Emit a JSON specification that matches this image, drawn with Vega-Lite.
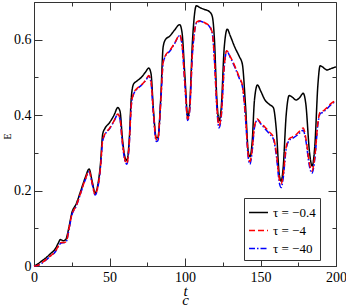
{
"$schema": "https://vega.github.io/schema/vega-lite/v6.json",
"width": 302, "height": 264,
"autosize": "none",
"padding": {"left": 34, "top": 2, "right": 10, "bottom": 39},
"background": "white",
"config": {"view": {"stroke": "#333", "strokeWidth": 1}, "font": "Liberation Serif", "axis": {"grid": false, "domainColor": "#333", "tickColor": "#333"}},
"datasets": {
"a": [
{"t":0,"E":0},{"t":2,"E":0.004},{"t":5,"E":0.013},{"t":8,"E":0.022},{"t":11,"E":0.033},{"t":14,"E":0.045},{"t":16,"E":0.06},{"t":17.5,"E":0.07},{"t":19.5,"E":0.067},{"t":21,"E":0.07},{"t":23,"E":0.1},{"t":25,"E":0.14},{"t":28,"E":0.165},{"t":31,"E":0.2},{"t":34,"E":0.235},{"t":36.5,"E":0.257},{"t":38.5,"E":0.225},{"t":40.5,"E":0.193},{"t":42,"E":0.21},{"t":44,"E":0.27},{"t":45.5,"E":0.35},{"t":47,"E":0.365},{"t":50,"E":0.38},{"t":53,"E":0.4},{"t":55.5,"E":0.42},{"t":57,"E":0.41},{"t":58.5,"E":0.34},{"t":60.5,"E":0.285},{"t":61.5,"E":0.28},{"t":63,"E":0.33},{"t":64.5,"E":0.45},{"t":66,"E":0.483},{"t":68,"E":0.49},{"t":71,"E":0.5},{"t":74,"E":0.515},{"t":76,"E":0.525},{"t":77.5,"E":0.51},{"t":79,"E":0.42},{"t":81,"E":0.34},{"t":82,"E":0.34},{"t":84,"E":0.45},{"t":85.5,"E":0.58},{"t":87,"E":0.6},{"t":90,"E":0.61},{"t":93,"E":0.625},{"t":96.5,"E":0.64},{"t":98,"E":0.62},{"t":100,"E":0.5},{"t":101.8,"E":0.395},{"t":103,"E":0.42},{"t":105,"E":0.6},{"t":107.5,"E":0.69},{"t":110,"E":0.685},{"t":113,"E":0.68},{"t":116,"E":0.675},{"t":118,"E":0.663},{"t":119.5,"E":0.6},{"t":121,"E":0.45},{"t":122.5,"E":0.385},{"t":124,"E":0.42},{"t":126,"E":0.58},{"t":128,"E":0.628},{"t":130,"E":0.61},{"t":133,"E":0.58},{"t":136,"E":0.555},{"t":138,"E":0.535},{"t":140,"E":0.43},{"t":142,"E":0.3},{"t":143,"E":0.29},{"t":144.5,"E":0.33},{"t":146,"E":0.44},{"t":148,"E":0.48},{"t":150,"E":0.465},{"t":153,"E":0.44},{"t":156,"E":0.428},{"t":158.5,"E":0.42},{"t":160.5,"E":0.36},{"t":162.5,"E":0.24},{"t":163.7,"E":0.225},{"t":165,"E":0.26},{"t":167,"E":0.4},{"t":169,"E":0.452},{"t":171,"E":0.448},{"t":173.5,"E":0.44},{"t":176,"E":0.447},{"t":178.3,"E":0.458},{"t":180,"E":0.43},{"t":182.5,"E":0.3},{"t":184.2,"E":0.265},{"t":186,"E":0.32},{"t":188,"E":0.48},{"t":189.5,"E":0.531},{"t":191,"E":0.528},{"t":194,"E":0.52},{"t":197,"E":0.524},{"t":200,"E":0.528}
],
"b": [
{"t":0,"E":0},{"t":2,"E":0.001},{"t":5,"E":0.008},{"t":8,"E":0.017},{"t":11,"E":0.027},{"t":14,"E":0.038},{"t":16,"E":0.052},{"t":18,"E":0.062},{"t":20,"E":0.062},{"t":21.5,"E":0.066},{"t":23,"E":0.095},{"t":25,"E":0.135},{"t":28,"E":0.16},{"t":31,"E":0.195},{"t":34,"E":0.23},{"t":36.5,"E":0.252},{"t":38.5,"E":0.22},{"t":40.5,"E":0.19},{"t":42,"E":0.205},{"t":44,"E":0.26},{"t":45.5,"E":0.335},{"t":47,"E":0.35},{"t":50,"E":0.365},{"t":53,"E":0.385},{"t":55.5,"E":0.403},{"t":57,"E":0.39},{"t":58.5,"E":0.33},{"t":60.5,"E":0.278},{"t":61.5,"E":0.272},{"t":63,"E":0.32},{"t":64.5,"E":0.43},{"t":66,"E":0.458},{"t":68,"E":0.47},{"t":71,"E":0.48},{"t":74,"E":0.493},{"t":76,"E":0.505},{"t":77.5,"E":0.49},{"t":79,"E":0.41},{"t":81,"E":0.335},{"t":82,"E":0.335},{"t":84,"E":0.44},{"t":85.5,"E":0.54},{"t":87,"E":0.558},{"t":90,"E":0.572},{"t":93,"E":0.59},{"t":96.5,"E":0.612},{"t":98,"E":0.59},{"t":100,"E":0.48},{"t":101.8,"E":0.39},{"t":103,"E":0.41},{"t":105,"E":0.57},{"t":108,"E":0.648},{"t":110,"E":0.65},{"t":113,"E":0.645},{"t":116,"E":0.637},{"t":118,"E":0.62},{"t":119.5,"E":0.55},{"t":121,"E":0.43},{"t":122.5,"E":0.372},{"t":124,"E":0.4},{"t":126,"E":0.53},{"t":127.6,"E":0.571},{"t":130,"E":0.555},{"t":133,"E":0.53},{"t":136,"E":0.5},{"t":138,"E":0.48},{"t":140,"E":0.4},{"t":142,"E":0.29},{"t":143,"E":0.277},{"t":144.5,"E":0.31},{"t":146,"E":0.37},{"t":148,"E":0.39},{"t":150,"E":0.38},{"t":153,"E":0.368},{"t":156,"E":0.355},{"t":158.5,"E":0.342},{"t":160.5,"E":0.3},{"t":162.5,"E":0.23},{"t":163.7,"E":0.218},{"t":165,"E":0.24},{"t":167,"E":0.315},{"t":169,"E":0.337},{"t":171,"E":0.342},{"t":174,"E":0.35},{"t":176,"E":0.358},{"t":178.3,"E":0.366},{"t":180,"E":0.34},{"t":182.5,"E":0.27},{"t":184,"E":0.252},{"t":186,"E":0.29},{"t":188,"E":0.38},{"t":189.5,"E":0.408},{"t":191,"E":0.41},{"t":194,"E":0.42},{"t":197,"E":0.432},{"t":200,"E":0.438}
],
"c": [
{"t":0,"E":0},{"t":2,"E":0.001},{"t":5,"E":0.007},{"t":8,"E":0.016},{"t":11,"E":0.027},{"t":14,"E":0.037},{"t":16,"E":0.051},{"t":18,"E":0.061},{"t":20,"E":0.062},{"t":21.5,"E":0.066},{"t":23,"E":0.093},{"t":25,"E":0.134},{"t":28,"E":0.159},{"t":31,"E":0.194},{"t":34,"E":0.229},{"t":36.5,"E":0.25},{"t":38.5,"E":0.218},{"t":40.5,"E":0.188},{"t":42,"E":0.203},{"t":44,"E":0.258},{"t":45.5,"E":0.332},{"t":47,"E":0.348},{"t":50,"E":0.364},{"t":53,"E":0.384},{"t":55.5,"E":0.402},{"t":57,"E":0.388},{"t":58.5,"E":0.327},{"t":60.5,"E":0.275},{"t":61.5,"E":0.27},{"t":63,"E":0.318},{"t":64.5,"E":0.428},{"t":66,"E":0.456},{"t":68,"E":0.468},{"t":71,"E":0.479},{"t":74,"E":0.492},{"t":76,"E":0.503},{"t":77.5,"E":0.487},{"t":79,"E":0.405},{"t":81,"E":0.33},{"t":82,"E":0.332},{"t":84,"E":0.437},{"t":85.5,"E":0.538},{"t":87,"E":0.556},{"t":90,"E":0.57},{"t":93,"E":0.589},{"t":96.5,"E":0.611},{"t":98,"E":0.588},{"t":100,"E":0.476},{"t":101.8,"E":0.386},{"t":103,"E":0.407},{"t":105,"E":0.567},{"t":108,"E":0.647},{"t":110,"E":0.649},{"t":113,"E":0.644},{"t":116,"E":0.636},{"t":118,"E":0.618},{"t":119.5,"E":0.546},{"t":121,"E":0.425},{"t":122.5,"E":0.366},{"t":124,"E":0.396},{"t":126,"E":0.527},{"t":127.6,"E":0.57},{"t":130,"E":0.553},{"t":133,"E":0.527},{"t":136,"E":0.497},{"t":138,"E":0.476},{"t":140,"E":0.395},{"t":142,"E":0.284},{"t":143,"E":0.27},{"t":144.5,"E":0.305},{"t":146,"E":0.367},{"t":148,"E":0.388},{"t":150,"E":0.378},{"t":153,"E":0.364},{"t":156,"E":0.35},{"t":158.5,"E":0.337},{"t":160.5,"E":0.293},{"t":162.5,"E":0.22},{"t":163.7,"E":0.208},{"t":165,"E":0.232},{"t":167,"E":0.31},{"t":169,"E":0.333},{"t":171,"E":0.338},{"t":174,"E":0.346},{"t":176,"E":0.353},{"t":178.3,"E":0.36},{"t":180,"E":0.333},{"t":182.5,"E":0.263},{"t":184,"E":0.246},{"t":186,"E":0.285},{"t":188,"E":0.376},{"t":189.5,"E":0.404},{"t":191,"E":0.407},{"t":194,"E":0.417},{"t":197,"E":0.429},{"t":200,"E":0.436}
]
},
"layer": [
 {
  "data": {"name": "a"},
  "mark": {"type": "line", "interpolate": "monotone", "strokeWidth": 1.5},
  "encoding": {
   "x": {"field": "t", "type": "quantitative", "scale": {"domain": [0, 200], "nice": false},
     "axis": {"orient": "bottom", "values": [0,50,100,150,200], "tickSize": -8,
       "labelColor": "black", "labelFontSize": 14, "labelFont": "Liberation Serif", "labelPadding": 12, "labelFlush": false, "labelOverlap": false, "labelBound": false,
       "title": ["t ", " c"], "titleFont": "Liberation Serif", "titleFontStyle": "italic", "titleFontWeight": "normal", "titleFontSize": 15, "titleLineHeight": 9, "titleY": 29, "titleBaseline": "alphabetic", "titleColor": "black"}},
   "y": {"field": "E", "type": "quantitative", "scale": {"domain": [0, 0.7], "nice": false},
     "axis": {"orient": "left", "values": [0,0.2,0.4,0.6], "tickSize": -8,
       "labelExpr": "datum.value === 0 ? '0' : format(datum.value, '.1f')",
       "labelColor": "black", "labelFontSize": 14, "labelFont": "Liberation Serif", "labelPadding": 11, "labelFlush": false, "labelOverlap": false, "labelBound": false,
       "title": "E", "titleFont": "Liberation Serif", "titleFontWeight": "normal", "titleFontSize": 10, "titleX": -27, "titleY": 134, "titleAlign": "center", "titleBaseline": "middle", "titleColor": "black"}},
   "color": {"datum": "τ = −0.4", "type": "nominal",
     "scale": {"domain": ["τ = −0.4", "τ = −4", "τ = −40"], "range": ["#000000", "#ff0000", "#0000ff"]},
     "legend": {"title": null, "orient": "none", "legendX": 210, "legendY": 196, "strokeColor": "#333", "fillColor": "white", "padding": 4, "symbolType": "stroke", "symbolSize": 360, "symbolStrokeWidth": 1.5, "labelFont": "Liberation Serif", "labelFontSize": 13, "labelColor": "black", "rowPadding": -5.5, "labelOffset": 4, "cornerRadius": 0}},
   "strokeDash": {"datum": "τ = −0.4", "type": "nominal",
     "scale": {"domain": ["τ = −0.4", "τ = −4", "τ = −40"], "range": [[1, 0], [6, 3], [6, 2, 1.5, 2]]},
     "legend": {"title": null, "orient": "none", "legendX": 210, "legendY": 196, "strokeColor": "#333", "fillColor": "white", "padding": 4, "symbolType": "stroke", "symbolSize": 360, "symbolStrokeWidth": 1.5, "labelFont": "Liberation Serif", "labelFontSize": 13, "labelColor": "black", "rowPadding": -5.5, "labelOffset": 4, "cornerRadius": 0}}
  }
 },
 {
  "data": {"name": "c"},
  "mark": {"type": "line", "interpolate": "monotone", "strokeWidth": 1.5},
  "encoding": {
   "x": {"field": "t", "type": "quantitative", "axis": null},
   "y": {"field": "E", "type": "quantitative", "axis": null},
   "color": {"datum": "τ = −40", "type": "nominal"},
   "strokeDash": {"datum": "τ = −40", "type": "nominal"}
  }
 },
 {
  "data": {"name": "b"},
  "mark": {"type": "line", "interpolate": "monotone", "strokeWidth": 1.5},
  "encoding": {
   "x": {"field": "t", "type": "quantitative", "axis": null},
   "y": {"field": "E", "type": "quantitative", "axis": null},
   "color": {"datum": "τ = −4", "type": "nominal"},
   "strokeDash": {"datum": "τ = −4", "type": "nominal"}
  }
 },
 {
  "data": {"name": "a"},
  "mark": {"type": "line", "opacity": 0},
  "encoding": {
   "x": {"field": "t", "type": "quantitative",
     "axis": {"orient": "top", "values": [0,50,100,150,200], "labels": false, "title": null, "domain": false, "tickSize": -8}},
   "y": {"field": "E", "type": "quantitative",
     "axis": {"orient": "right", "values": [0,0.2,0.4,0.6], "labels": false, "title": null, "domain": false, "tickSize": -8}}
  }
 },
 {
  "data": {"name": "a"},
  "mark": {"type": "line", "opacity": 0},
  "encoding": {
   "x": {"field": "t", "type": "quantitative",
     "axis": {"orient": "bottom", "values": [25,75,125,175], "labels": false, "title": null, "domain": false, "tickSize": -4}},
   "y": {"field": "E", "type": "quantitative",
     "axis": {"orient": "left", "values": [0.1,0.3,0.5], "labels": false, "title": null, "domain": false, "tickSize": -4}}
  }
 },
 {
  "data": {"name": "a"},
  "mark": {"type": "line", "opacity": 0},
  "encoding": {
   "x": {"field": "t", "type": "quantitative",
     "axis": {"orient": "top", "values": [25,75,125,175], "labels": false, "title": null, "domain": false, "tickSize": -4}},
   "y": {"field": "E", "type": "quantitative",
     "axis": {"orient": "right", "values": [0.1,0.3,0.5], "labels": false, "title": null, "domain": false, "tickSize": -4}}
  }
 }
],
"resolve": {"axis": {"x": "independent", "y": "independent"}}
}
